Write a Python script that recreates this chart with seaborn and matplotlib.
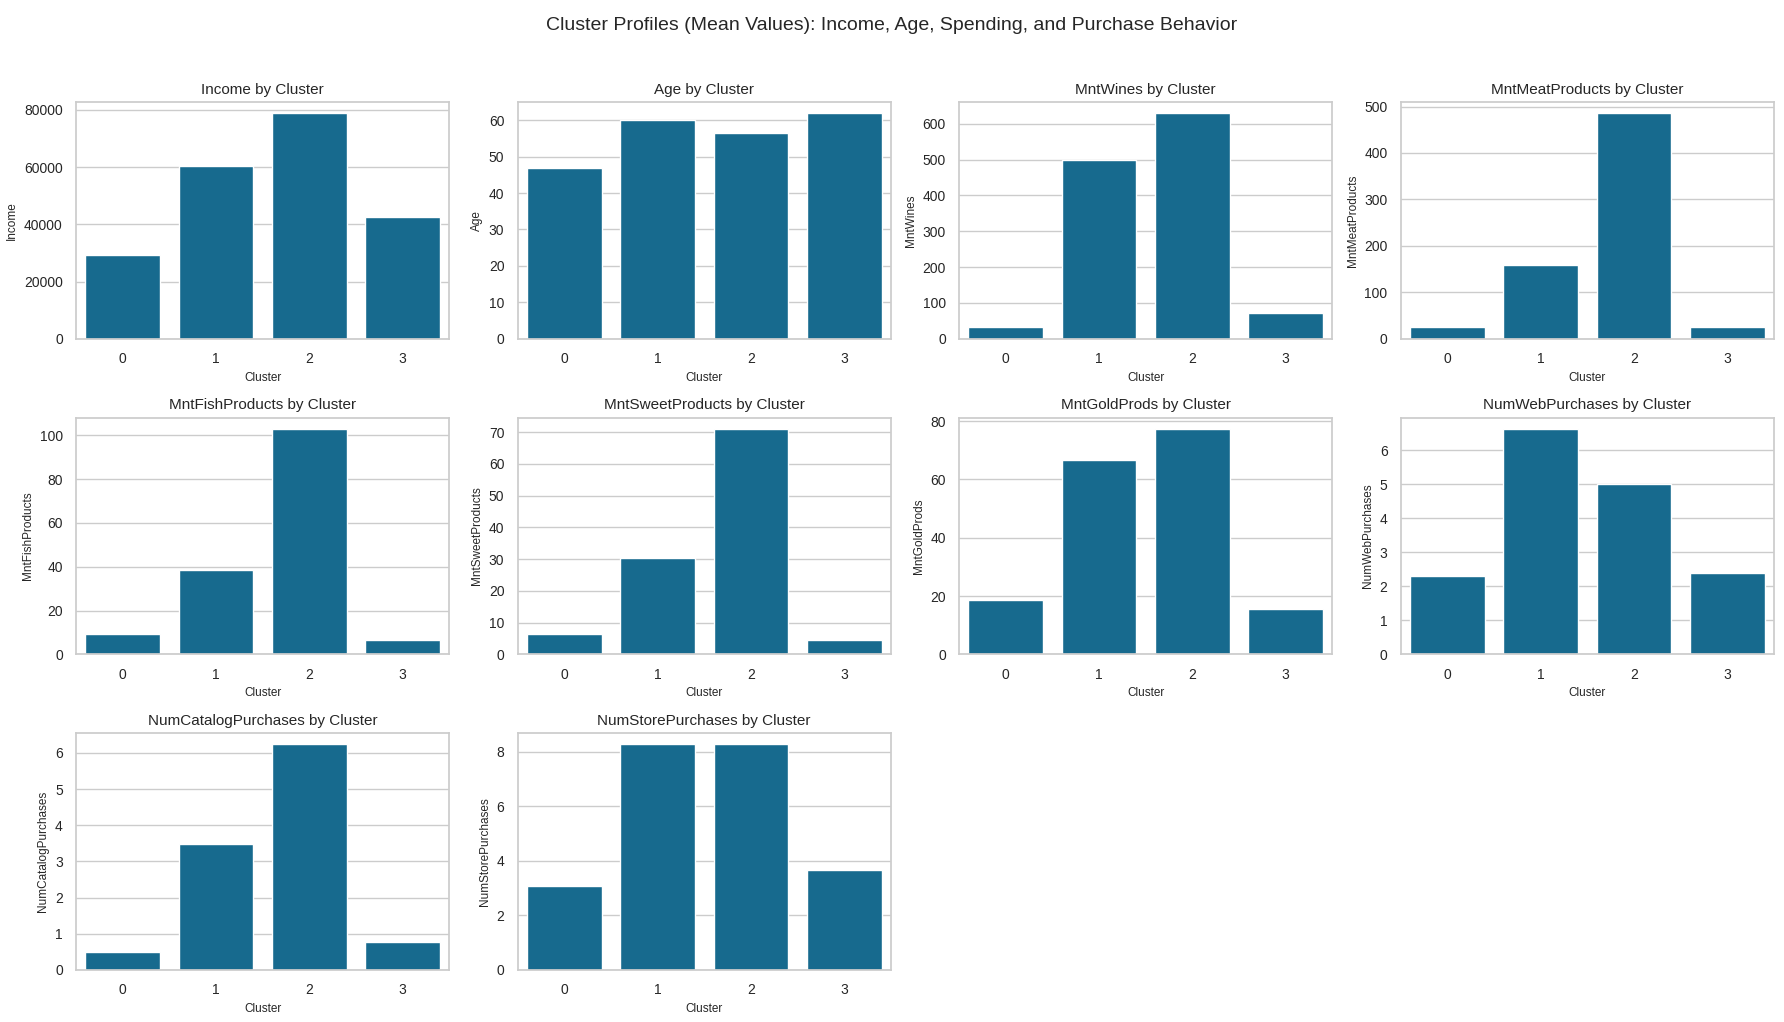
import numpy as np
import pandas as pd
import matplotlib
matplotlib.use("Agg")
import matplotlib.pyplot as plt
import seaborn as sns


# ------------------------------------------------------------
# Cluster mean values
# ------------------------------------------------------------
clusters = [0, 1, 2, 3]

income = [29300, 60200, 78800, 42650]
age = [46.8, 60.0, 56.4, 61.9]
mnt_wines = [32, 500, 629, 71]
mnt_meat = [24.5, 158.5, 485.5, 24.5]
mnt_fish = [9.1, 38.7, 102.9, 6.4]
mnt_sweet = [6.3, 30.2, 71.0, 4.4]
mnt_gold = [18.5, 66.7, 77.3, 15.7]
num_web = [2.29, 6.63, 5.01, 2.40]
num_catalog = [0.51, 3.47, 6.23, 0.76]
num_store = [3.09, 8.27, 8.27, 3.65]

features = [
    "Income", "Age", "MntWines", "MntMeatProducts", "MntFishProducts",
    "MntSweetProducts", "MntGoldProds", "NumWebPurchases",
    "NumCatalogPurchases", "NumStorePurchases",
]

profile = pd.DataFrame({
    "Cluster": clusters,
    "Income": income,
    "Age": age,
    "MntWines": mnt_wines,
    "MntMeatProducts": mnt_meat,
    "MntFishProducts": mnt_fish,
    "MntSweetProducts": mnt_sweet,
    "MntGoldProds": mnt_gold,
    "NumWebPurchases": num_web,
    "NumCatalogPurchases": num_catalog,
    "NumStorePurchases": num_store,
})


# ------------------------------------------------------------
# Style
# ------------------------------------------------------------
sns.set_theme(style="whitegrid")
plt.rcParams["font.family"] = ["Liberation Sans", "DejaVu Sans"]
BAR_COLOR = "#176a8e"


# ------------------------------------------------------------
# Plot
# ------------------------------------------------------------
fig, axes = plt.subplots(3, 4, figsize=(17.84, 10.22), dpi=100)
axes = axes.flatten()

for i, col in enumerate(features):
    ax = axes[i]
    sns.barplot(data=profile, x="Cluster", y=col, color=BAR_COLOR,
                saturation=1, ax=ax)
    ax.set_title(f"{col} by Cluster", fontsize=11, color=".15")
    ax.set_xlabel("Cluster", fontsize=8.5)
    ax.set_ylabel(col, fontsize=8.5)
    ax.tick_params(axis="both", labelsize=10)

# remove unused panels
for j in range(len(features), len(axes)):
    fig.delaxes(axes[j])

fig.suptitle("Cluster Profiles (Mean Values): Income, Age, Spending, and Purchase Behavior",
             fontsize=14, y=0.983)
fig.subplots_adjust(left=0.0426, right=0.9944, top=0.9002, bottom=0.0509,
                    wspace=0.183, hspace=0.333)
fig.savefig("out.png", dpi=100)
